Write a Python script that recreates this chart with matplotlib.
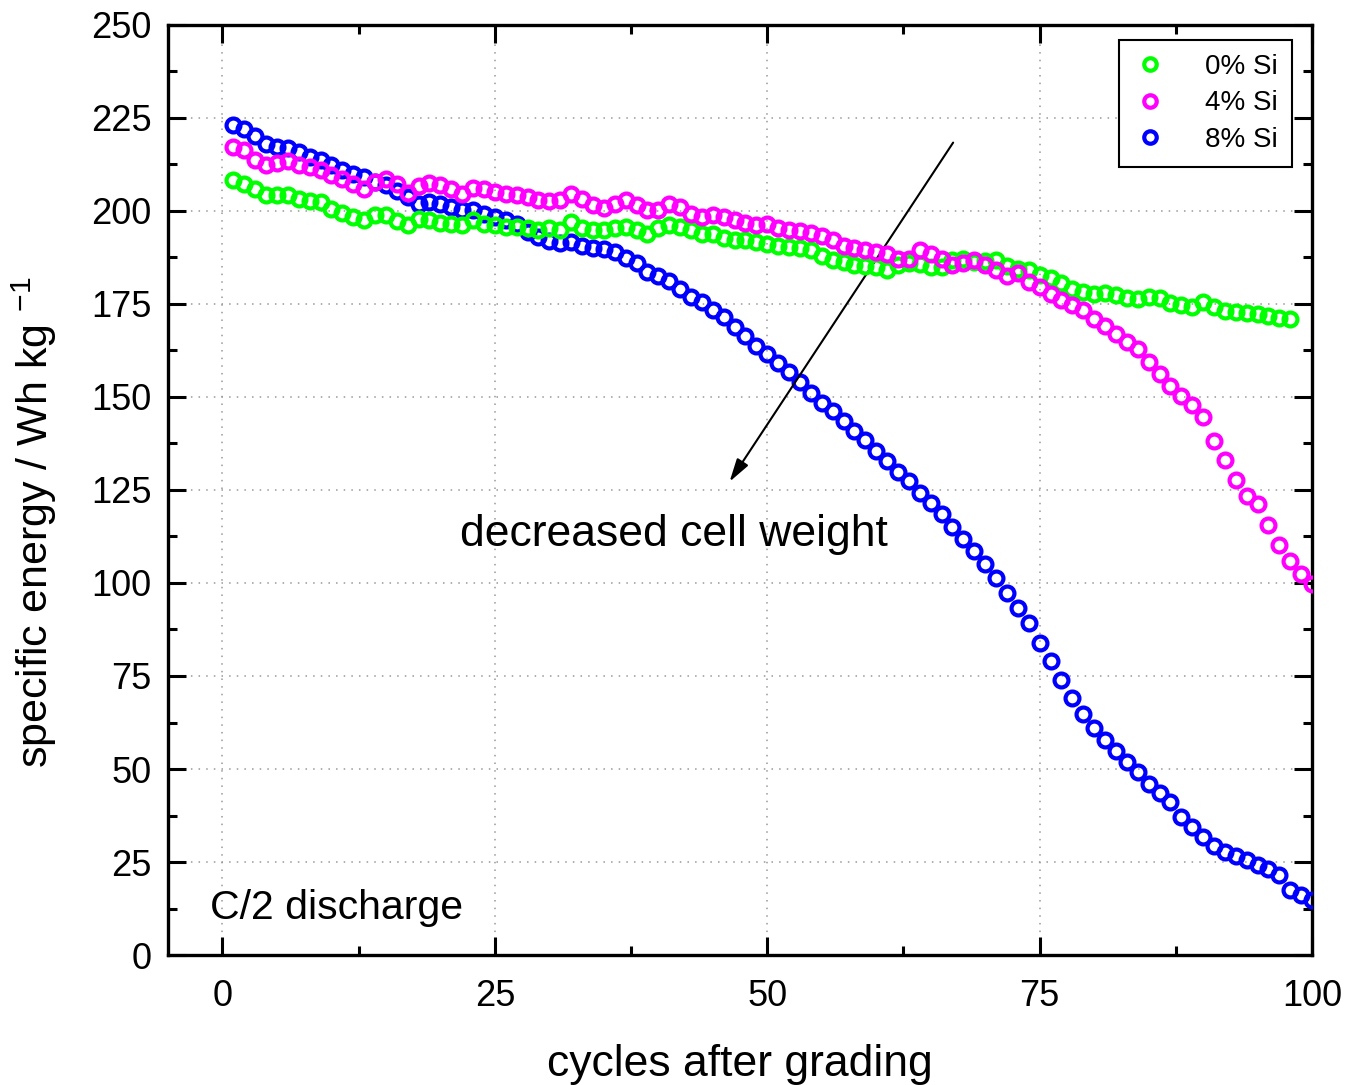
import numpy as np
import matplotlib
matplotlib.use('Agg')
import matplotlib.pyplot as plt
from matplotlib.ticker import MultipleLocator

plt.rcParams['font.family'] = ['Liberation Sans', 'DejaVu Sans']
plt.rcParams['mathtext.fontset'] = 'custom'
plt.rcParams['mathtext.rm'] = 'Liberation Sans'
plt.rcParams['mathtext.it'] = 'Liberation Sans:italic'

# specific energy (Wh/kg) per cycle after grading
si0 = [208.2, 207.3, 206.0, 204.3, 204.3, 204.3, 203.3, 202.8, 202.4, 200.4,
       199.4, 198.4, 197.7, 198.8, 199.0, 197.3, 196.1, 197.9, 197.5, 196.7,
       196.4, 196.1, 197.6, 196.6, 196.1, 195.8, 195.8, 195.4, 195.0, 195.3,
       195.0, 197.0, 195.5, 194.8, 194.8, 195.5, 195.8, 195.0, 193.9, 195.5,
       196.1, 195.7, 194.8, 193.9, 193.9, 192.8, 192.3, 192.1, 191.6, 191.2,
       190.5, 190.3, 190.1, 189.4, 187.8, 186.9, 186.2, 185.6, 185.3, 184.9,
       184.2, 185.5, 186.0, 185.8, 184.9, 184.9, 186.7, 187.1, 186.2, 186.5,
       186.7, 185.3, 184.4, 184.0, 182.9, 182.0, 180.6, 179.0, 178.2, 177.7,
       177.9, 177.3, 176.6, 176.3, 176.8, 176.6, 175.2, 174.6, 174.3, 175.5,
       174.3, 173.2, 172.8, 172.5, 172.3, 171.9, 171.2, 171.0]

si4 = [217.2, 216.5, 213.8, 212.3, 212.9, 213.4, 212.3, 211.8, 211.1, 209.6,
       208.5, 207.3, 206.0, 207.8, 208.7, 207.3, 204.8, 206.6, 207.5, 206.9,
       206.0, 204.6, 206.3, 206.0, 205.1, 204.5, 204.2, 203.7, 203.0, 202.6,
       202.9, 204.6, 203.3, 201.5, 200.9, 201.8, 202.9, 201.5, 200.2, 200.2,
       202.0, 201.0, 199.3, 198.4, 198.8, 198.4, 197.6, 196.7, 196.1, 196.6,
       195.5, 195.0, 194.6, 194.0, 193.4, 192.1, 190.7, 190.1, 189.4, 188.9,
       188.5, 187.1, 187.1, 189.6, 188.5, 187.1, 185.6, 186.0, 186.7, 185.6,
       184.0, 182.4, 183.3, 180.9, 179.5, 177.7, 176.1, 174.8, 173.4, 171.0,
       169.2, 167.0, 164.7, 162.9, 159.3, 156.1, 153.0, 150.3, 147.9, 144.5,
       138.2, 133.0, 127.6, 123.4, 121.3, 115.7, 110.3, 105.9, 102.3, 99.6]

si8 = [223.1, 221.9, 220.1, 218.1, 217.2, 216.8, 215.9, 214.5, 213.8, 212.3,
       210.9, 209.9, 209.0, 207.8, 207.0, 205.5, 203.7, 202.0, 202.4, 202.0,
       201.0, 200.2, 200.2, 199.3, 198.4, 197.5, 196.6, 194.4, 193.0, 191.8,
       191.4, 191.6, 190.5, 190.1, 189.8, 188.9, 187.4, 186.0, 183.6, 182.6,
       181.1, 179.0, 177.0, 175.5, 173.4, 171.4, 168.9, 166.5, 163.8, 161.5,
       159.0, 156.6, 153.9, 151.2, 148.5, 146.1, 143.6, 140.9, 138.4, 135.5,
       132.8, 129.9, 127.5, 124.3, 121.6, 118.6, 115.0, 111.7, 108.6, 105.0,
       101.4, 97.3, 93.3, 89.3, 83.8, 78.9, 74.0, 69.2, 64.8, 60.9,
       57.8, 54.9, 52.0, 49.1, 45.9, 43.5, 41.0, 37.2, 34.5, 31.8,
       29.4, 27.7, 26.7, 25.5, 24.3, 23.1, 21.6, 17.4, 16.1, 14.7]

cyc0 = np.arange(1, len(si0) + 1)
cyc4 = np.arange(1, len(si4) + 1)
cyc8 = np.arange(1, len(si8) + 1)

labels = ['0% Si', '4% Si', '8% Si']
colors = ['#00ff00', '#ff00ff', '#0000ff']

fig = plt.figure(figsize=(13.45, 10.85), dpi=100)
ax = fig.add_axes([0.1249, 0.1198, 0.8506, 0.8572])

mk = dict(linestyle='none', marker='o', markersize=10, markeredgewidth=3.0,
          markerfacecolor='none')
h8, = ax.plot(cyc8, si8, color=colors[2], label=labels[2], zorder=3, **mk)
h0, = ax.plot(cyc0, si0, color=colors[0], label=labels[0], zorder=4, **mk)
h4, = ax.plot(cyc4, si4, color=colors[1], label=labels[1], zorder=5, **mk)

ax.set_xlim(-5, 100)
ax.set_ylim(0, 250)
ax.xaxis.set_major_locator(MultipleLocator(25))
ax.xaxis.set_minor_locator(MultipleLocator(12.5))
ax.yaxis.set_major_locator(MultipleLocator(25))
ax.yaxis.set_minor_locator(MultipleLocator(12.5))

ax.tick_params(which='both', direction='in', top=True, right=True, width=2.2)
ax.tick_params(which='major', length=13, labelsize=26)
ax.tick_params(which='minor', length=6.5)
ax.tick_params(axis='x', pad=17)
ax.tick_params(axis='y', pad=12)
for s in ax.spines.values():
    s.set_linewidth(2.4)

ax.grid(True, which='major', color='#999999', linestyle=(0, (1, 4)), linewidth=1.1)
ax.set_axisbelow(True)

ax.set_xlabel('cycles after grading', fontsize=32, labelpad=22)
ax.set_ylabel(r'specific energy / Wh kg $^{\mathregular{-1}}$', fontsize=31)
ax.yaxis.set_label_coords(-0.095, 0.465)

ax.annotate('', xy=(46.4, 126.6), xytext=(67.2, 219),
            arrowprops=dict(arrowstyle='-|>,head_length=0.7,head_width=0.2',
                            color='black', lw=1.5, mutation_scale=20))
ax.text(41.4, 113.0, 'decreased cell weight', fontsize=32,
        ha='center', va='center')
ax.text(-1.1, 9.7, 'C/2 discharge', fontsize=29.5, ha='left', va='baseline')

leg = ax.legend(handles=[h0, h4, h8], loc='upper right',
                bbox_to_anchor=(0.9825, 0.984), borderaxespad=0,
                fontsize=20, fancybox=False, framealpha=1, edgecolor='black',
                handlelength=1.2, handletextpad=1.4, labelspacing=0.38,
                borderpad=0.5, markerscale=0.9)
leg.get_frame().set_linewidth(1.5)

fig.savefig('out.png', dpi=100)
